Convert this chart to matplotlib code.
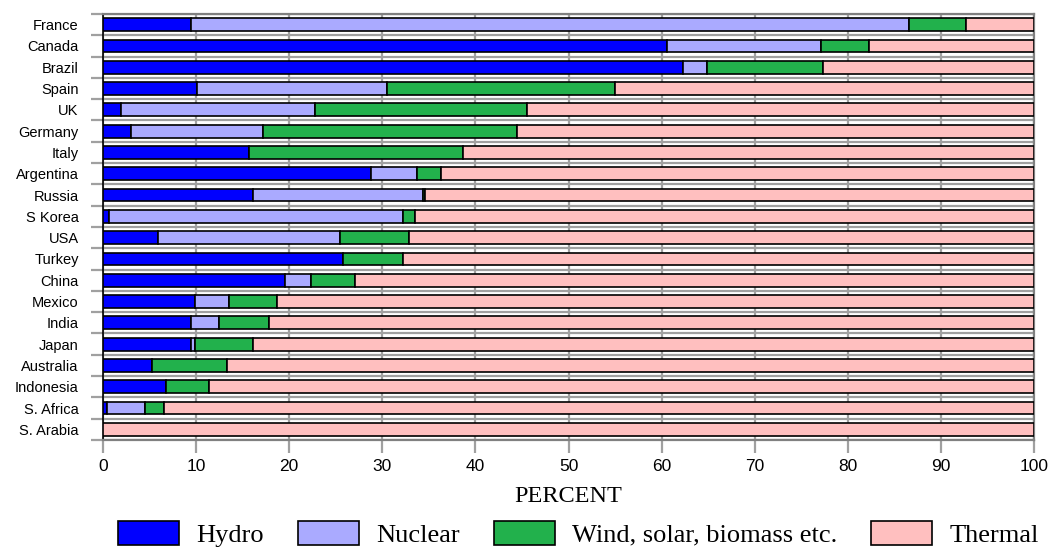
import numpy as np
import matplotlib
matplotlib.use("Agg")
from matplotlib import pyplot as plt
from matplotlib import font_manager

# countries top to bottom
countries = ["France", "Canada", "Brazil", "Spain", "UK", "Germany", "Italy",
             "Argentina", "Russia", "S Korea", "USA", "Turkey", "China", "Mexico",
             "India", "Japan", "Australia", "Indonesia", "S. Africa", "S. Arabia"]

# shares in percent
hydro = [9.5, 60.6, 62.3, 10.1, 1.9, 3.0, 15.7, 28.8, 16.1, 0.6,
         5.9, 25.8, 19.5, 9.9, 9.5, 9.5, 5.3, 6.8, 0.4, 0.0]
nuclear = [77.1, 16.5, 2.6, 20.4, 20.9, 14.2, 0.0, 4.9, 18.3, 31.6,
           19.6, 0.0, 2.8, 3.6, 3.0, 0.4, 0.0, 0.0, 4.1, 0.0]
renew = [6.1, 5.2, 12.4, 24.5, 22.7, 27.3, 23.0, 2.6, 0.2, 1.3,
         7.4, 6.4, 4.8, 5.2, 5.3, 6.2, 8.0, 4.6, 2.0, 0.0]
thermal = [100 - h - n - r for h, n, r in zip(hydro, nuclear, renew)]

series = [("Hydro", hydro, "#0000ff"),
          ("Nuclear", nuclear, "#aaaaff"),
          ("Wind, solar, biomass etc.", renew, "#22b14c"),
          ("Thermal", thermal, "#ffbfbf")]

names = {f.name for f in font_manager.fontManager.ttflist}
sans = "Liberation Sans Narrow" if "Liberation Sans Narrow" in names else "Liberation Sans"
serif = "Liberation Serif"

fig = plt.figure(figsize=(10.48, 5.51), dpi=100)
ax = fig.add_axes([103 / 1048, 1 - 440 / 551, 931 / 1048, 426 / 551])

y = np.arange(len(countries))[::-1]
left = np.zeros(len(countries))
for label, vals, color in series:
    vals = np.array(vals)
    ax.barh(y, vals, left=left, height=0.6, color=color, edgecolor="black",
            linewidth=1.2, label=label, zorder=3)
    left += vals

ax.set_xlim(0, 100)
ax.set_ylim(-0.5, len(countries) - 0.5)

# grid: vertical at each 10, horizontal at row borders
ax.set_xticks(np.arange(0, 101, 10))
ax.set_yticks(y)
ax.set_yticklabels(countries, family=[sans, "DejaVu Sans"], fontsize=10.5)
ax.set_yticks(np.arange(-0.5, len(countries), 1), minor=True)
ax.grid(axis="x", color="#a0a0a0", linewidth=1.6, zorder=0)
ax.grid(axis="y", which="minor", color="#a0a0a0", linewidth=1.6, zorder=0)
ax.tick_params(axis="y", which="major", length=0, pad=17.5)
ax.tick_params(axis="y", which="minor", length=9, width=1.6, color="#a0a0a0")
ax.tick_params(axis="x", length=9, width=1.6, color="#a0a0a0", pad=5)
for t in ax.get_xticklabels():
    t.set_family([sans, "DejaVu Sans"])
    t.set_fontsize(12.5)

for side in ["top", "right", "bottom"]:
    ax.spines[side].set_color("#808080")
    ax.spines[side].set_linewidth(1.6)
ax.spines["left"].set_color("black")
ax.spines["left"].set_linewidth(1.2)

ax.set_xlabel("PERCENT", family=serif, fontsize=17.5, labelpad=8)

fig.legend(loc="center", bbox_to_anchor=(0.552, 0.031), ncol=4,
           frameon=False, prop={"family": serif, "size": 19},
           handlelength=2.3, handleheight=1.0, handletextpad=0.65,
           columnspacing=1.3, borderaxespad=0.0, borderpad=0.0)

fig.savefig("out.png", dpi=100)
